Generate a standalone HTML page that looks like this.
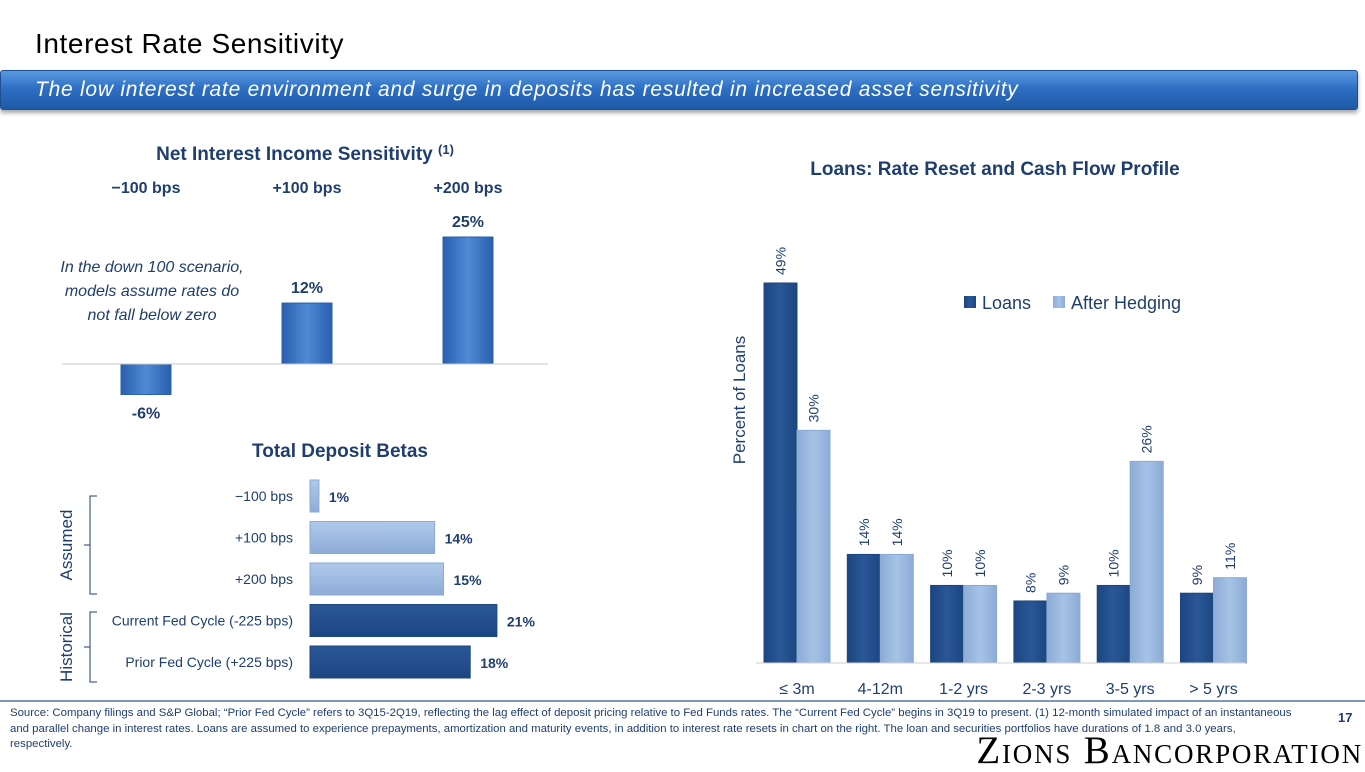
<!DOCTYPE html>
<html><head><meta charset="utf-8">
<style>
body{margin:0;width:1365px;height:768px;overflow:hidden;background:#fff;font-family:"Liberation Sans",sans-serif;position:relative}
.abs{position:absolute}
#title{left:35px;top:28px;font-size:28px;color:#000;letter-spacing:0.6px}
#banner{left:0;top:70px;width:1356px;height:38px;background:linear-gradient(#5a9ae0,#2f6fc4 45%,#1f5aa8);border:1px solid #1d4f94;border-radius:3px;box-shadow:0 3px 4px rgba(0,0,0,.35)}
#banner span{position:absolute;left:34px;top:7px;color:#fff;font-style:italic;font-size:21px;letter-spacing:0.75px}
#footer{left:0;top:700px;width:1365px;border-top:2px solid #7f97b8}
#src{left:10px;top:706px;width:1300px;font-size:11.4px;color:#1f3e6e;line-height:15.5px}
#logo{right:2px;top:733px;font-family:"Liberation Serif",serif;font-size:39px;font-variant:small-caps;letter-spacing:1.8px;color:#000;line-height:36px;background:transparent}
</style></head><body>
<div id="title" class="abs">Interest Rate Sensitivity</div>
<div id="banner" class="abs"><span>The low interest rate environment and surge in deposits has resulted in increased asset sensitivity</span></div>

<svg class="abs" style="left:0;top:0" width="1365" height="700">
<defs>
<linearGradient id="gMid" x1="0" x2="1"><stop offset="0" stop-color="#2a5fae"/><stop offset=".5" stop-color="#4f8ad6"/><stop offset="1" stop-color="#2a5fae"/></linearGradient>
<linearGradient id="gDark" x1="0" x2="1"><stop offset="0" stop-color="#1c4680"/><stop offset=".5" stop-color="#2a5797"/><stop offset="1" stop-color="#1c4680"/></linearGradient>
<linearGradient id="gLight" x1="0" x2="1"><stop offset="0" stop-color="#8cacd6"/><stop offset=".5" stop-color="#a6c2e6"/><stop offset="1" stop-color="#8cacd6"/></linearGradient>
<linearGradient id="gDarkH" x1="0" y1="0" x2="0" y2="1"><stop offset="0" stop-color="#2a5797"/><stop offset=".5" stop-color="#244f8e"/><stop offset="1" stop-color="#1c4680"/></linearGradient>
<linearGradient id="gLightH" x1="0" y1="0" x2="0" y2="1"><stop offset="0" stop-color="#b0c9ea"/><stop offset=".5" stop-color="#9fbbe2"/><stop offset="1" stop-color="#8cacd6"/></linearGradient>
</defs>
<g id="nii"></g>
<g id="beta"></g>
<g id="loans"></g>
</svg>

<div id="footer" class="abs"></div>
<div id="src" class="abs">Source: Company filings and S&amp;P Global; “Prior Fed Cycle” refers to 3Q15-2Q19, reflecting the lag effect of deposit pricing relative to Fed Funds rates. The “Current Fed Cycle” begins in 3Q19 to present. (1) 12-month simulated impact of an instantaneous and parallel change in interest rates. Loans are assumed to experience prepayments, amortization and maturity events, in addition to interest rate resets in chart on the right. The loan and securities portfolios have durations of 1.8 and 3.0 years,<br>respectively.</div>
<div class="abs" style="left:1338px;top:710px;font-size:13px;font-weight:bold;color:#1f3e6e">17</div>
<div id="logo" class="abs">Zions Bancorporation</div>

<script>
const NS='http://www.w3.org/2000/svg';
function mk(parent,tag,attrs,text){const e=document.createElementNS(NS,tag);for(const k in attrs)e.setAttribute(k,attrs[k]);if(text!==undefined)e.textContent=text;parent.appendChild(e);return e;}

// ---- NII sensitivity
const niiCats=['−100 bps','+100 bps','+200 bps'];
const niiVals=[-6,12,25];
// ---- Deposit betas
const betaCats=['−100 bps','+100 bps','+200 bps','Current Fed Cycle (-225 bps)','Prior Fed Cycle (+225 bps)'];
const betaVals=[1,14,15,21,18];
const betaGroup=['assumed','assumed','assumed','historical','historical'];
// ---- Loans
const loanCats=['≤ 3m','4-12m','1-2 yrs','2-3 yrs','3-5 yrs','> 5 yrs'];
const loansVals=[49,14,10,8,10,9];
const hedgedVals=[30,14,10,9,26,11];

(function(){
 const g=document.getElementById('nii');
 const t=mk(g,'text',{x:305,y:160,'text-anchor':'middle','font-size':19,'font-weight':'bold',fill:'#1f3e6e'},'Net Interest Income Sensitivity ');
 
 mk(t,'tspan',{'font-size':13,dy:-6},'(1)');
 const base=364, sc=5.08, x0=146, step=161, bw=50;
 const y=v=>base-v*sc;
 niiCats.forEach((c,i)=>{
  const cx=x0+i*step;
  const h=mk(g,'text',{x:cx,y:193,'text-anchor':'middle','font-size':16,'font-weight':'bold',fill:'#1f3e6e'},c);
  
  const v=niiVals[i];
  const r=mk(g,'rect',{x:cx-bw/2,y:Math.min(y(v),base),width:bw,height:Math.abs(v*sc),fill:'url(#gMid)',stroke:'#2a5fae','stroke-width':1});
  
  const ly=v>=0?y(v)-10:y(v)+24;
  const l=mk(g,'text',{x:cx,y:ly,'text-anchor':'middle','font-size':16,'font-weight':'bold',fill:'#1f3e6e'},(v<0?'-':'')+Math.abs(v)+'%');
  
 });
 const ax=mk(g,'line',{x1:62,x2:548,y1:base,y2:base,stroke:'#c8c8c8','stroke-width':1});
 
 ['In the down 100 scenario,','models assume rates do','not fall below zero'].forEach((s,i)=>{
  const n=mk(g,'text',{x:152,y:272+i*24,'text-anchor':'middle','font-size':16,'font-style':'italic',fill:'#1f3e6e'},s);
  
 });
})();

(function(){
 const g=document.getElementById('beta');
 const t=mk(g,'text',{x:340,y:457,'text-anchor':'middle','font-size':19,'font-weight':'bold',fill:'#1f3e6e'},'Total Deposit Betas');
 
 const x0=310, sc=8.9, y0=496, step=41.5, bh=32;
 betaCats.forEach((c,i)=>{
  const cy=y0+i*step, v=betaVals[i];
  const r=mk(g,'rect',{x:x0,y:cy-bh/2,width:v*sc,height:bh,fill:betaGroup[i]==='assumed'?'url(#gLightH)':'url(#gDarkH)',stroke:betaGroup[i]==='assumed'?'#8aa9d3':'#1c4680'});
  
  const l=mk(g,'text',{x:293,y:cy+5,'text-anchor':'end','font-size':14,fill:'#1f3e6e'},c);
  
  const vl=mk(g,'text',{x:x0+v*sc+10,y:cy+6,'font-size':14,'font-weight':'bold',fill:'#1f3e6e'},v+'%');
  
 });
 const br1=mk(g,'path',{d:'M97,496 H90 V594 H97 M90,545 H84',fill:'none',stroke:'#1f3e6e','stroke-width':1});
 
 const br2=mk(g,'path',{d:'M97,612 H90 V682 H97 M90,647 H84',fill:'none',stroke:'#1f3e6e','stroke-width':1});
 
 const a=mk(g,'text',{x:0,y:0,transform:'translate(72,545) rotate(-90)','text-anchor':'middle','font-size':17,fill:'#1f3e6e'},'Assumed');
 
 const h=mk(g,'text',{x:0,y:0,transform:'translate(72,647) rotate(-90)','text-anchor':'middle','font-size':17,fill:'#1f3e6e'},'Historical');
 
})();

(function(){
 const g=document.getElementById('loans');
 const t=mk(g,'text',{x:995,y:175,'text-anchor':'middle','font-size':19,'font-weight':'bold',fill:'#1f3e6e'},'Loans: Rate Reset and Cash Flow Profile');
 
 const base=663, sc=7.755, x0=764, step=83.3, bw=33;
 const y=v=>base-v*sc;
 loanCats.forEach((c,i)=>{
  const gx=x0+i*step;
  [[loansVals[i],'url(#gDark)','#1c4680','loans-bar'],[hedgedVals[i],'url(#gLight)','#8aa9d3','after-hedging-bar']].forEach((s,j)=>{
   const bx=gx+j*bw;
   const r=mk(g,'rect',{x:bx,y:y(s[0]),width:bw,height:s[0]*sc,fill:s[1],stroke:s[2]});
   
   const l=mk(g,'text',{x:0,y:0,transform:`translate(${bx+bw/2+5},${y(s[0])-8}) rotate(-90)`,'font-size':14,fill:'#1f3e6e'},s[0]+'%');
   
  });
  const xl=mk(g,'text',{x:gx+bw,y:694,'text-anchor':'middle','font-size':16,fill:'#1f3e6e'},c);
  
 });
 const ax=mk(g,'line',{x1:756,x2:1245,y1:base,y2:base,stroke:'#d0d0d0','stroke-width':1});
 
 const yt=mk(g,'text',{x:0,y:0,transform:'translate(745,400) rotate(-90)','text-anchor':'middle','font-size':17,fill:'#1f3e6e'},'Percent of Loans');
 
 const k1=mk(g,'rect',{x:964,y:296,width:12,height:12,fill:'url(#gDark)'});
 
 const t1=mk(g,'text',{x:982,y:309,'font-size':18,fill:'#1f3e6e'},'Loans');
 
 const k2=mk(g,'rect',{x:1053,y:296,width:12,height:12,fill:'url(#gLight)'});
 
 const t2=mk(g,'text',{x:1071,y:309,'font-size':18,fill:'#1f3e6e'},'After Hedging');
 
})();
</script>
</body></html>
